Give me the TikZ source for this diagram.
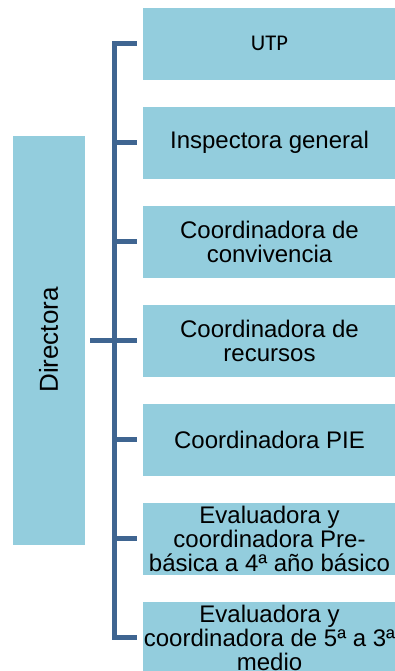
\documentclass[tikz,border=0pt]{standalone}
\usepackage{fontspec}
\setmainfont{Liberation Sans}
\newfontfamily\calfont{Carlito}
\definecolor{boxfill}{HTML}{93CDDD}
\definecolor{conncol}{HTML}{3F6591}
\begin{document}
\begin{tikzpicture}[x=1pt,y=-1pt,
  rbox/.style={fill=boxfill,draw=white,line width=0.6pt,minimum width=255pt,minimum height=73pt,align=center,inner sep=0pt,font=\fontsize{24}{24}\selectfont},
  conn/.style={draw=conncol,line width=5pt,line join=miter}]
\useasboundingbox (0,0) rectangle (395,671);
\clip (0,0) rectangle (395,671);
\node[rbox,font=\calfont\fontsize{22.5}{24}\selectfont] (b1) at (269.5,43.5) {UTP};
\node[rbox] (b2) at (269.5,142.5) {Inspectora general};
\node[rbox] (b3) at (269.5,241.5) {Coordinadora de\\convivencia};
\node[rbox] (b4) at (269.5,340.5) {Coordinadora de\\recursos};
\node[rbox] (b5) at (269.5,439.5) {Coordinadora PIE};
\node[rbox] (b6) at (269.5,538.5) {Evaluadora y\\coordinadora Pre-\\básica a 4ª año básico};
\node[rbox] (b7) at (269.5,637.5) {Evaluadora y\\coordinadora de 5ª a 3ª\\medio};
\node[fill=boxfill,draw=white,line width=0.6pt,minimum width=73pt,minimum height=410pt,inner sep=0pt] (d) at (48.5,340) {};
\node[rotate=90,font=\fontsize{26}{26}\selectfont] (dt) at (d.center) {Directora};
\coordinate (bus) at (114,0);
\draw[conn] ([xshift=-5pt]b1.west) -| (bus |- b7.west) -- ([xshift=-5pt]b7.west);
\foreach \b in {b2,b3,b4,b5,b6}{
  \draw[conn] (bus |- \b.west) -- ([xshift=-5pt]\b.west);
}
\draw[conn] ([xshift=5pt]d.east |- b4.west) -- (bus |- b4.west);
\end{tikzpicture}
\end{document}
